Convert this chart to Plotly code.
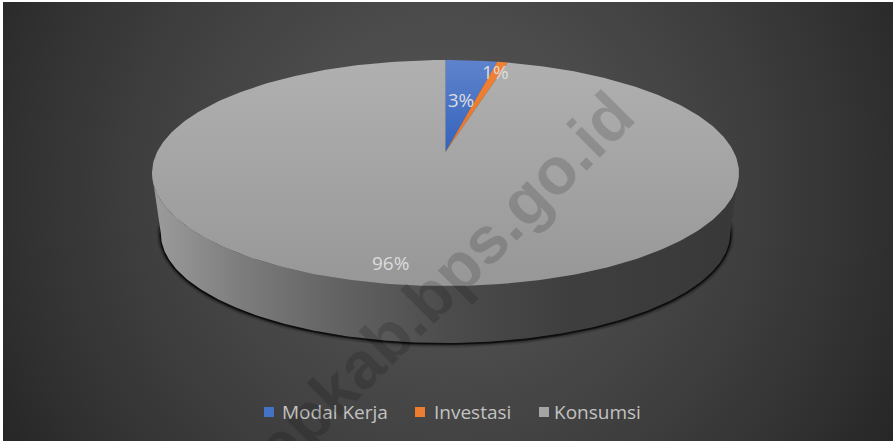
import numpy as np
import plotly.graph_objects as go

categories = ["Modal Kerja", "Investasi", "Konsumsi"]
values = [3.4, 0.7, 95.9]
labels = ["3%", "1%", "96%"]
label_radius = [0.50, 0.84, 0.885]
label_turn_deg = [0.6, 0.2, 3.0]
colors = ["#4472c4", "#ed7d31", "#a5a5a5"]
gradients = [
    [[0, "#5f83cc"], [1, "#3363bd"]],
    [[0, "#f08236"], [1, "#e8742a"]],
    [[0, "#b0b0b0"], [1, "#979797"]],
]
legend_marker_x = [269, 420, 544]
legend_text_x = [282, 434, 554]
legend_y = 412

# projective view of the pie disc
CX, CY, TOP, BOTTOM, HALF = 445.5, 152.0, 60.0, 286.0, 293.5
c = abs(((TOP + BOTTOM) - 2 * CY) / (BOTTOM - TOP))
a = TOP * (1 + c) - CY
k = HALF * np.sqrt(1 - c * c)
SCALE_B, DEPTH_Y = 0.97, 61.0


def project(phi, r=1.0, base=False):
    s, t = r * np.sin(phi), r * np.cos(phi)
    w = c * t + 1
    x = CX + k * s / w
    y = (a * t + CY) / w
    if base:
        x = CX + (x - CX) * SCALE_B
        y = CY + (y - CY) * SCALE_B + DEPTH_Y
    return x, y


fig = go.Figure()

# chart area background
th = np.linspace(0, 2 * np.pi, 200)
fig.add_trace(go.Scatter(
    x=445 + 560 * np.cos(th), y=185 + 560 * np.sin(th), mode="lines", fill="toself",
    line=dict(width=0), hoverinfo="skip", showlegend=False,
    fillgradient=dict(type="radial", colorscale=[
        [0, "#565656"], [0.3, "#4b4b4b"], [0.55, "#3e3e3e"], [0.75, "#323232"], [0.92, "#262626"], [1, "#242424"]]),
))

# shadow below the disc, running on behind the top face so it has no visible ends
edge = np.arcsin(c)
phi_shadow = np.linspace(np.pi / 2 + edge - 0.35, 3 * np.pi / 2 - edge + 0.35, 280)
sx, sy = project(phi_shadow, base=True)
for w, op in [(9, 0.10), (6, 0.18), (3.5, 0.35), (2, 0.6)]:
    fig.add_trace(go.Scatter(x=sx, y=sy + 0.6, mode="lines", line=dict(color="#000000", width=w),
                             opacity=op, hoverinfo="skip", showlegend=False))

# front wall of the disc
phi_front = np.linspace(np.pi / 2 + edge, 3 * np.pi / 2 - edge, 240)
tx, ty = project(phi_front)
bx, by = project(phi_front, base=True)
fig.add_trace(go.Scatter(
    x=np.r_[tx, bx[::-1]], y=np.r_[ty, by[::-1]], mode="lines", fill="toself",
    line=dict(width=0), hoverinfo="skip", showlegend=False,
    fillgradient=dict(type="horizontal", start=152, stop=739, colorscale=[
        [0, "#9c9c9c"], [0.15, "#7d7d7d"], [0.3, "#656565"], [0.5, "#4c4c4c"], [0.7, "#3f3f3f"], [1, "#383838"]]),
))

# slices, from the values
fractions = np.array(values) / sum(values)
starts = np.r_[0, np.cumsum(fractions)[:-1]] * 2 * np.pi
ends = np.cumsum(fractions) * 2 * np.pi
for i, name in enumerate(categories):
    phi = np.linspace(starts[i], ends[i], max(12, int(400 * fractions[i])))
    x, y = project(phi)
    fig.add_trace(go.Scatter(
        x=np.r_[CX, x, CX], y=np.r_[CY, y, CY], mode="lines", fill="toself", name=name,
        line=dict(width=0), showlegend=False, hoverinfo="name",
        fillgradient=dict(type="vertical", start=TOP, stop=BOTTOM if i == 2 else CY,
                          colorscale=gradients[i]),
    ))

# slice labels
mids = (starts + ends) / 2 + np.radians(label_turn_deg)
lx, ly = project(mids, np.array(label_radius))
fig.add_trace(go.Scatter(x=lx, y=ly, mode="text", text=labels, hoverinfo="skip", showlegend=False,
                         textposition="middle center",
                         textfont=dict(family="Open Sans", size=19, color="#dcdcdc")))

# legend
for name, col, mx, tx_ in zip(categories, colors, legend_marker_x, legend_text_x):
    fig.add_trace(go.Scatter(x=[mx], y=[legend_y], mode="markers", hoverinfo="skip", showlegend=False,
                             marker=dict(symbol="square", size=10, color=col, line=dict(width=0))))
    fig.add_annotation(x=tx_, y=legend_y, text=name, showarrow=False, xanchor="left", yanchor="middle",
                       xshift=-2, font=dict(family="Open Sans", size=19, color="#c2c2c2"))

fig.add_annotation(x=444, y=281, text="<b>epkab.bps.go.id</b>", textangle=-45, showarrow=False,
                   font=dict(family="Liberation Sans", size=66, color="rgba(0,0,0,0.15)"))

fig.update_layout(
    width=893, height=441, autosize=False,
    margin=dict(l=3, r=0, t=2, b=0),
    paper_bgcolor="#ffffff", plot_bgcolor="#3a3a3a",
    showlegend=False,
    xaxis=dict(range=[3, 893], visible=False, fixedrange=True),
    yaxis=dict(range=[441, 2], visible=False, fixedrange=True),
)
fig.write_html("out.html", config={"displayModeBar": False},
               post_script="document.body.style.margin='0';document.documentElement.style.overflow='hidden';")
